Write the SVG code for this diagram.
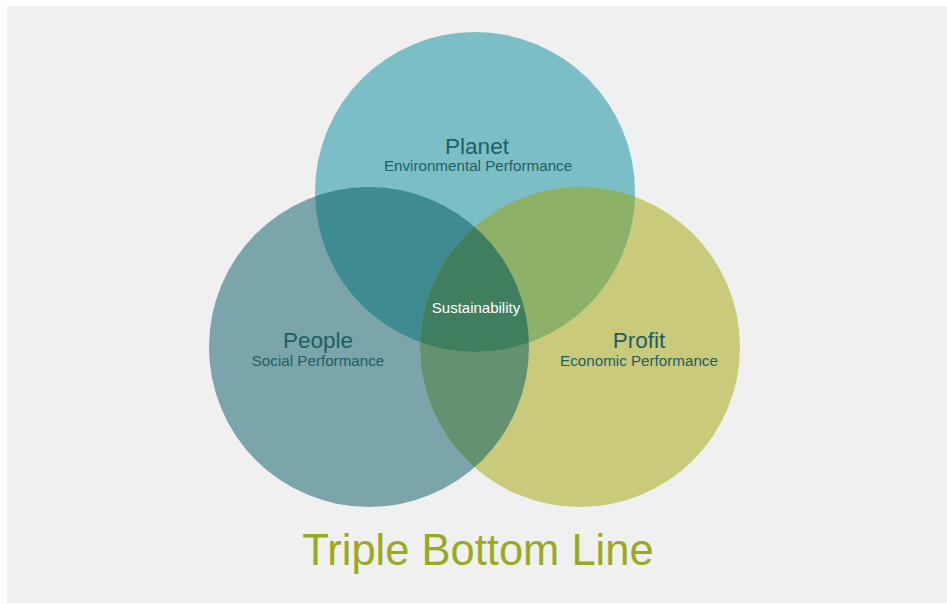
<svg xmlns="http://www.w3.org/2000/svg" width="947" height="604" viewBox="0 0 947 604">
  <style>
    .label { font-family: "Liberation Sans", Arial, sans-serif; fill: #1f5e66; text-anchor: middle; }
    .name { font-size: 22.5px; }
    .sub { font-size: 15.2px; }
    .core { font-family: "Liberation Sans", Arial, sans-serif; fill: #ffffff; font-size: 15px; text-anchor: middle; }
    .title { font-family: "Liberation Sans", Arial, sans-serif; fill: #9aa922; font-size: 43.5px; text-anchor: middle; }
  </style>
  <defs>
    <clipPath id="clip-people"><circle cx="369" cy="347" r="160"/></clipPath>
    <clipPath id="clip-profit"><circle cx="580" cy="347" r="160"/></clipPath>
  </defs>

  <!-- page -->
  <rect x="0" y="0" width="947" height="604" fill="#ffffff"/>
  <rect x="7" y="6" width="940" height="597" fill="#f0f0f0"/>

  <!-- base circles -->
  <g id="people">
    <circle cx="369" cy="347" r="160" fill="#7aa5aa"/>
  </g>
  <g id="profit">
    <circle cx="580" cy="347" r="160" fill="#c9ca7a"/>
  </g>
  <g id="planet">
    <circle cx="475" cy="192" r="160" fill="#7cbec5"/>
  </g>

  <!-- overlaps -->
  <g id="overlaps">
    <g clip-path="url(#clip-people)">
      <circle cx="580" cy="347" r="160" fill="#64916f"/>
      <circle cx="475" cy="192" r="160" fill="#3e8b92"/>
    </g>
    <g clip-path="url(#clip-profit)">
      <circle cx="475" cy="192" r="160" fill="#8db267"/>
      <g clip-path="url(#clip-people)">
        <circle cx="475" cy="192" r="160" fill="#3f7e5f"/>
      </g>
    </g>
  </g>

  <!-- labels -->
  <g id="planet-label" class="label">
    <text class="name" x="477" y="154">Planet</text>
    <text class="sub" x="478" y="171">Environmental Performance</text>
  </g>
  <g id="people-label" class="label">
    <text class="name" x="318" y="348">People</text>
    <text class="sub" x="318" y="366">Social Performance</text>
  </g>
  <g id="profit-label" class="label">
    <text class="name" x="639" y="348">Profit</text>
    <text class="sub" x="639" y="366">Economic Performance</text>
  </g>
  <g id="sustainability">
    <text class="core" x="476" y="313">Sustainability</text>
  </g>

  <g id="title">
    <text class="title" x="478" y="565">Triple Bottom Line</text>
  </g>
</svg>
